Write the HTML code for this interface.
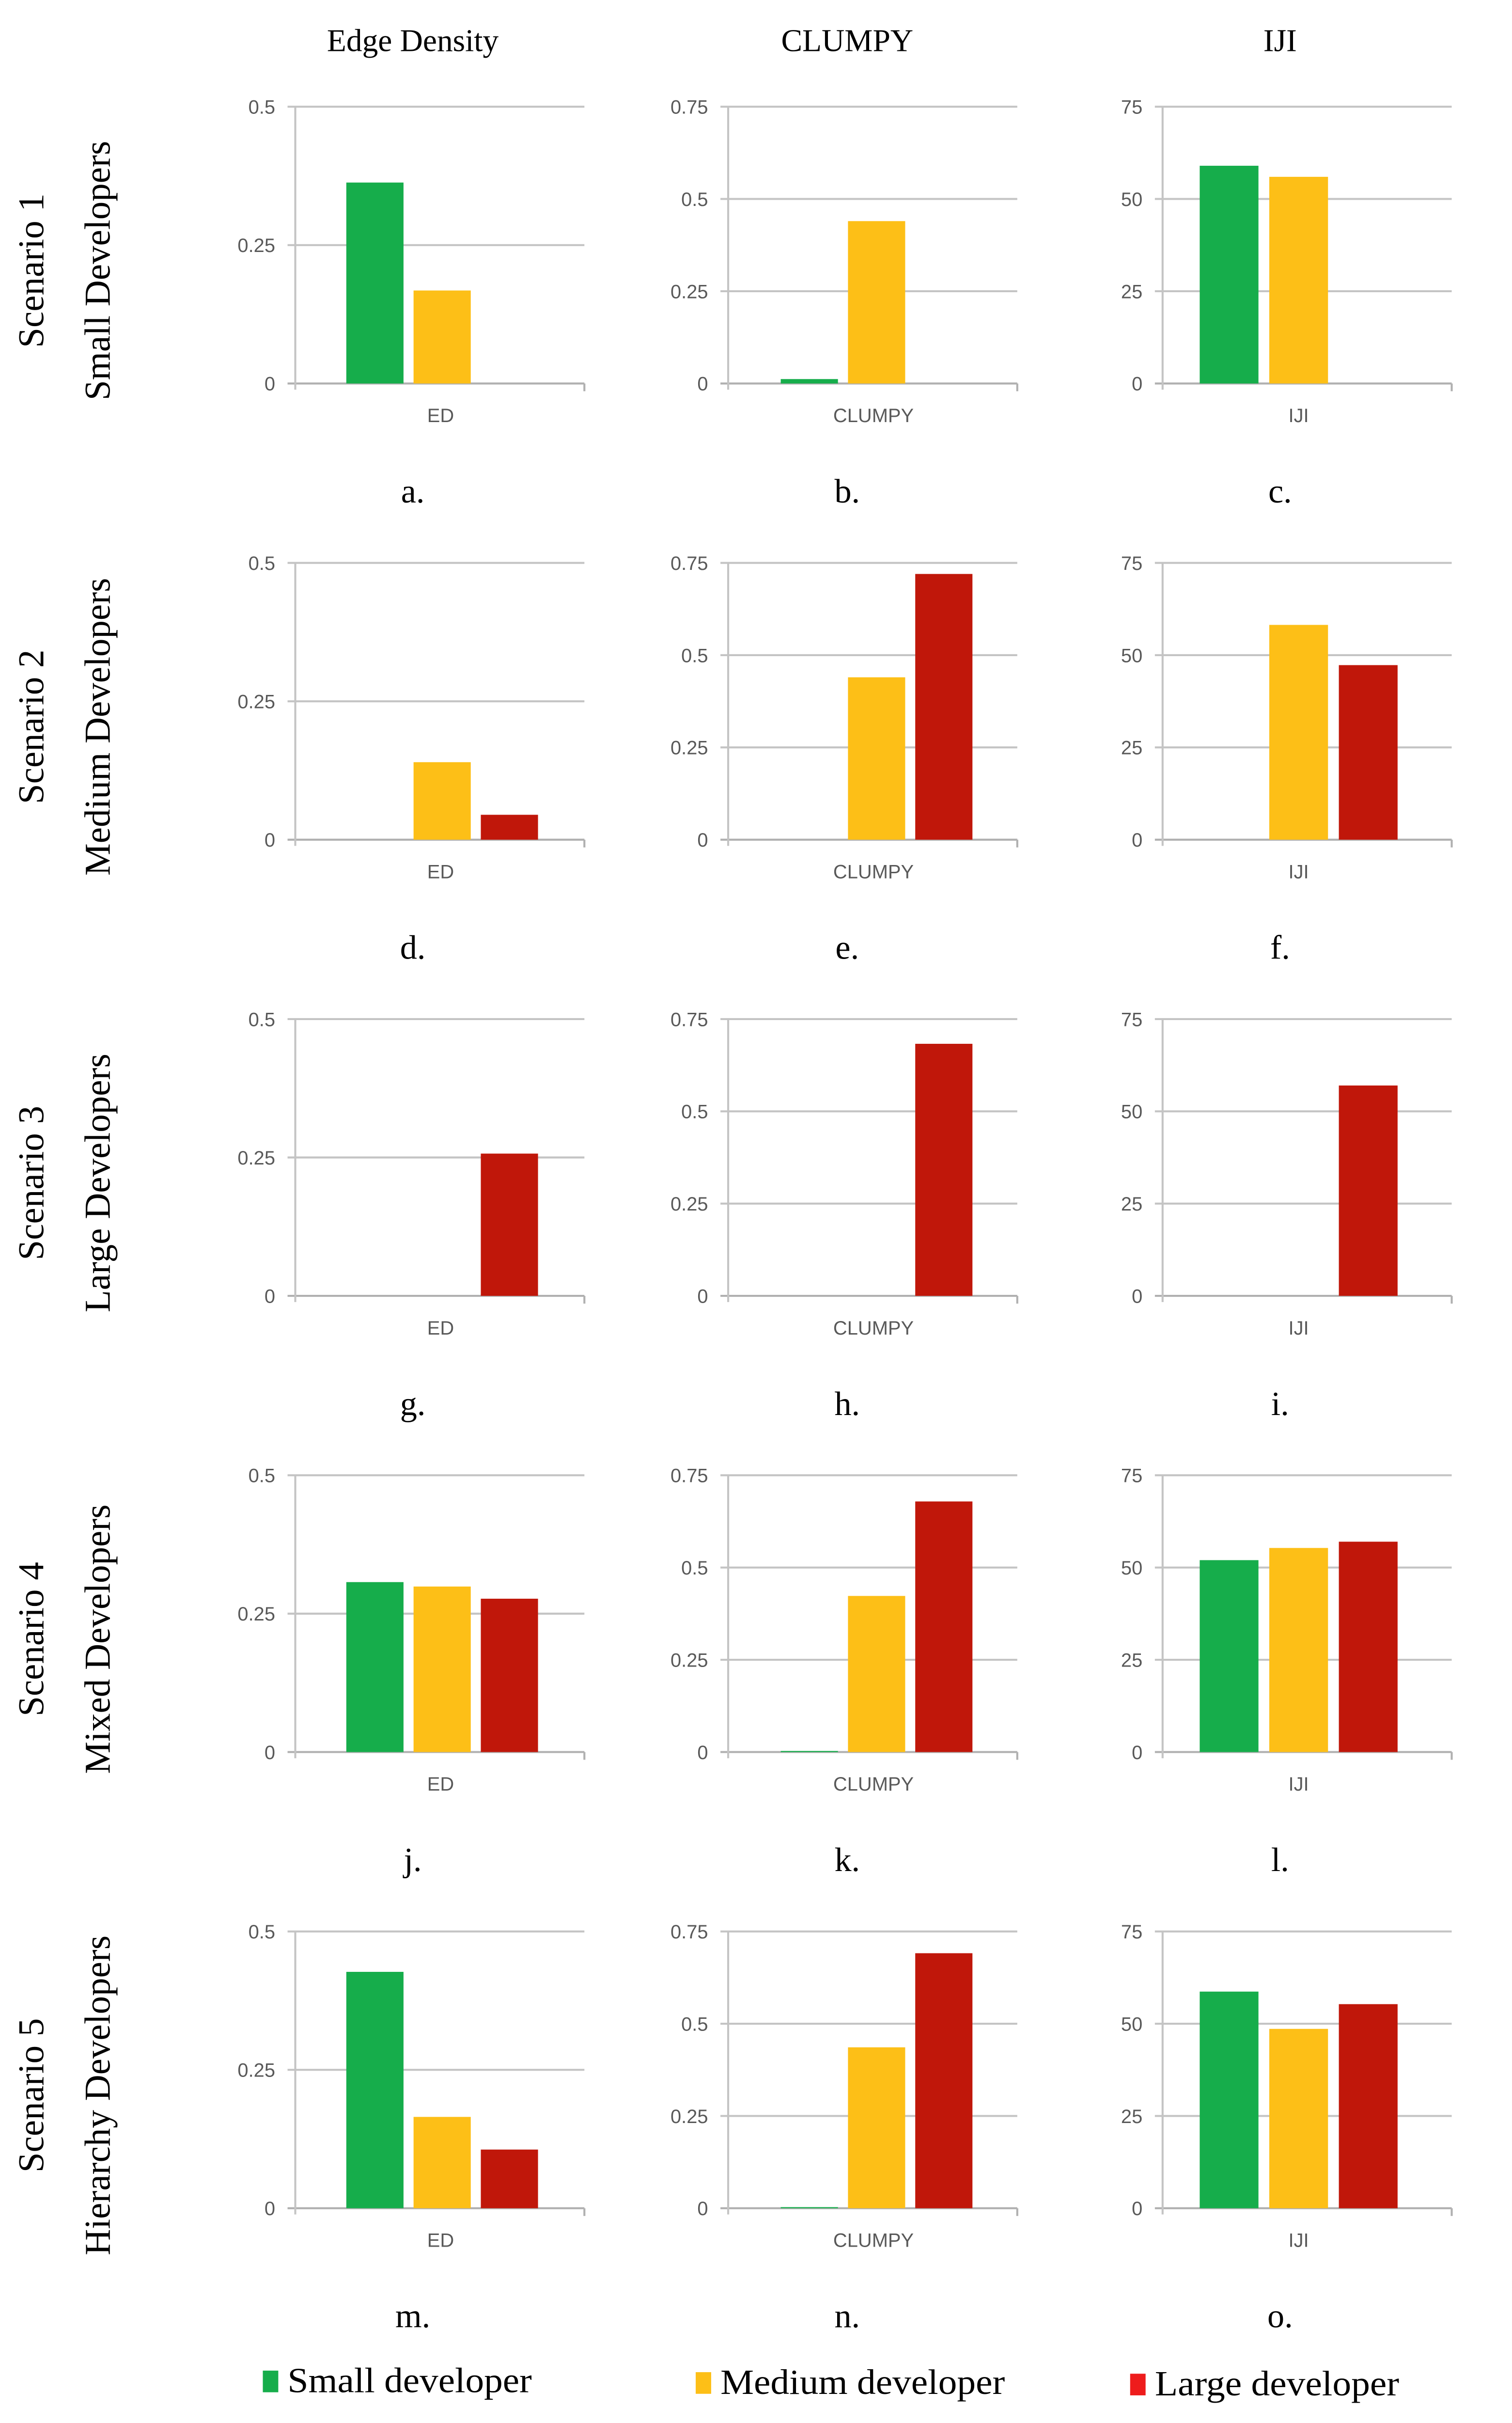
<!DOCTYPE html>
<html><head><meta charset="utf-8">
<style>
html,body{margin:0;padding:0;background:#fff;overflow:hidden;}
svg{display:block;}
.tick{font-family:"Liberation Sans",sans-serif;font-size:12.5px;fill:#595959;}
.cat{font-family:"Liberation Sans",sans-serif;font-size:12.5px;fill:#595959;}
.ser{font-family:"Liberation Serif",serif;fill:#000;}
</style></head>
<body>
<svg id="chart" width="3121" height="5084" viewBox="0 0 978 1593.2" preserveAspectRatio="none" xmlns="http://www.w3.org/2000/svg"></svg>
<script>
// ---- data ----
const columnTitles = ["Edge Density", "CLUMPY", "IJI"];
const categoryLabels = ["ED", "CLUMPY", "IJI"];
const axisMax = [0.5, 0.75, 75];
const tickLabels0 = ["0", "0.25", "0.5"];
const tickLabels1 = ["0", "0.25", "0.5", "0.75"];
const tickLabels2 = ["0", "25", "50", "75"];
const tickValues0 = [0, 0.25, 0.5];
const tickValues1 = [0, 0.25, 0.5, 0.75];
const tickValues2 = [0, 25, 50, 75];
const scenarioNames = ["Scenario 1", "Scenario 2", "Scenario 3", "Scenario 4", "Scenario 5"];
const scenarioSubs = ["Small Developers", "Medium Developers", "Large Developers", "Mixed Developers", "Hierarchy Developers"];
const panelLetters = ["a.","b.","c.","d.","e.","f.","g.","h.","i.","j.","k.","l.","m.","n.","o."];
// values per scenario per metric: null = series absent
const smallValues = [
  [0.363, 0.012, 59], [null, null, null], [null, null, null], [0.307, 0.003, 52], [0.427, 0.003, 58.7]
];
const mediumValues = [
  [0.168, 0.44, 56], [0.14, 0.44, 58.2], [null, null, null], [0.299, 0.423, 55.3], [0.165, 0.436, 48.6]
];
const largeValues = [
  [null, null, null], [0.045, 0.72, 47.3], [0.257, 0.683, 57], [0.277, 0.679, 57], [0.106, 0.691, 55.3]
];
const seriesNames = ["Small developer", "Medium developer", "Large developer"];

// ---- layout ----
const NS = "http://www.w3.org/2000/svg";
const svg = document.getElementById("chart");
const colColors = ["#16ad4b", "#fdbf17", "#c0170a"];
const legendColors = ["#16ad4b", "#fdbf17", "#ee1c1c"];
const colAxisLeft = [191, 471, 752];
const barOffset = [33, 34, 24];
const barStep = [43.5, 43.5, 45];
const barW = [37, 37, 38];
const catOffset = [94, 94, 88];
const axisWidth = 187;
const rowZero = [248, 543, 838, 1133, 1428];
const plotH = 179;
const titleX = [267, 548, 828];
function el(tag, attrs, parent) {
  const e = document.createElementNS(NS, tag);
  for (const k in attrs) e.setAttribute(k, attrs[k]);
  (parent || svg).appendChild(e);
  return e;
}
function yScale(r, c, v) { return rowZero[r] - v / axisMax[c] * plotH; }
function xBar(c, s) { return colAxisLeft[c] + barOffset[c] + s * barStep[c]; }
const tickSets = [[tickValues0, tickLabels0], [tickValues1, tickLabels1], [tickValues2, tickLabels2]];

columnTitles.forEach((t, c) => {
  const e = el("text", {x: titleX[c], y: 33, "text-anchor": "middle", class: "ser", "font-size": 20.5});
  e.textContent = t;
  
  
});

for (let r = 0; r < 5; r++) {
  const cy = rowZero[r] - 73;
  const g = el("g", {transform: `translate(0,${cy}) rotate(-90)`});
  
  
  const t1 = el("text", {x: 0, y: 28, "text-anchor": "middle", class: "ser", "font-size": 23.5}, g);
  t1.textContent = scenarioNames[r];
  const t2 = el("text", {x: 0, y: 71, "text-anchor": "middle", class: "ser", "font-size": 23.5}, g);
  t2.textContent = scenarioSubs[r];

  for (let c = 0; c < 3; c++) {
    const pg = el("g", {});
    
    
    const x0 = colAxisLeft[c], x1 = x0 + axisWidth;
    const [tv, tl] = tickSets[c];
    tv.forEach((v, i) => {
      const y = yScale(r, c, v);
      const ln = el("line", {x1: x0 - 5, x2: x1, y1: y, y2: y, stroke: i === 0 ? "#b0b0b0" : "#c4c4c4", "stroke-width": 1.3}, pg);
      
      
      const tx = el("text", {x: x0 - 13, y: y + 4.5, "text-anchor": "end", class: "tick"}, pg);
      tx.textContent = tl[i];
      
      
    });
    const ax = el("line", {x1: x0, x2: x0, y1: yScale(r, c, axisMax[c]), y2: rowZero[r] + 4, stroke: "#c4c4c4", "stroke-width": 1.3}, pg);
    
    
    const rt = el("line", {x1: x1, x2: x1, y1: rowZero[r], y2: rowZero[r] + 5, stroke: "#b0b0b0", "stroke-width": 1.3}, pg);
    
    
    const series = [smallValues[r][c], mediumValues[r][c], largeValues[r][c]];
    series.forEach((v, s) => {
      if (v === null) return;
      const y = yScale(r, c, v);
      const b = el("rect", {x: xBar(c, s), y: y, width: barW[c], height: rowZero[r] - y, fill: colColors[s]}, pg);
      
      
    });
    const cl = el("text", {x: x0 + catOffset[c], y: rowZero[r] + 25, "text-anchor": "middle", class: "cat"}, pg);
    cl.textContent = categoryLabels[c];
    
    
    const pl = el("text", {x: titleX[c], y: rowZero[r] + 77, "text-anchor": "middle", class: "ser", "font-size": 22}, svg);
    pl.textContent = panelLetters[r * 3 + c];
    
    
  }
}

const legX = [170, 450, 731];
const legTextW = [158, 184, 158];
seriesNames.forEach((n, s) => {
  const g = el("g", {});
  
  
  el("rect", {x: legX[s], y: 1533 + s, width: 10, height: 14, fill: legendColors[s]}, g);
  const t = el("text", {x: legX[s] + 16, y: 1547 + s, class: "ser", "font-size": 23, textLength: legTextW[s], lengthAdjust: "spacingAndGlyphs"}, g);
  t.textContent = n;
});
</script>
</body></html>
